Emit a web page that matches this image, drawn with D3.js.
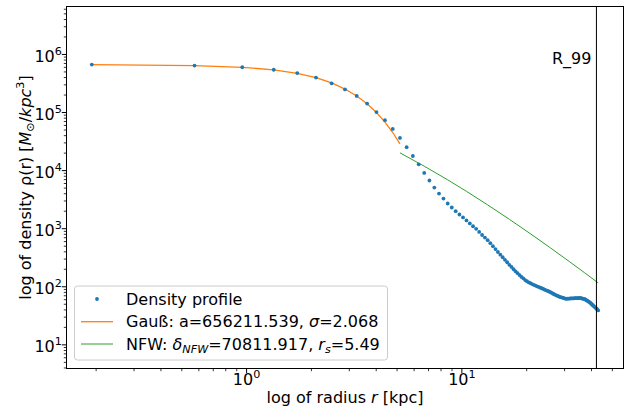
<!DOCTYPE html>
<html><head><meta charset="utf-8">
<script src="https://cdn.jsdelivr.net/npm/d3@7"></script>
<style>
html,body{margin:0;padding:0;background:#fff;}
svg{display:block;font-family:"DejaVu Sans",sans-serif;}
</style></head><body>
<svg id="chart" width="626" height="408"></svg>
<script>
// ---- data ----
const radius = [
0.192,0.576,0.960,1.344,1.728,2.112,2.496,2.880,3.264,3.648,
4.032,4.416,4.800,5.184,5.568,5.952,6.336,6.720,7.104,7.488,
7.872,8.256,8.640,9.024,9.408,9.792,10.176,10.560,10.944,11.328,
11.712,12.096,12.480,12.864,13.248,13.632,14.016,14.400,14.784,15.168,
15.552,15.936,16.320,16.704,17.088,17.472,17.856,18.240,18.624,19.008,
19.392,19.776,20.160,20.544,20.928,21.312,21.696,22.080,22.464,22.848,
23.232,23.616,24.000,24.384,24.768,25.152,25.536,25.920,26.304,26.688,
27.072,27.456,27.840,28.224,28.608,28.992,29.376,29.760,30.144,30.528,
30.912,31.296,31.680,32.064,32.448,32.832,33.216,33.600,33.984,34.368,
34.752,35.136,35.520,35.904,36.288,36.672,37.056,37.440,37.824,38.208,
38.592,38.976,39.360,39.744,40.128,40.512,40.896,41.280,41.664,42.048,
42.432,42.816,43.200];
const density = [
656000,631000,590000,535000,468000,392000,312000,245000,189000,140000,
100000,72300,51200,35800,24800,17500,12600,8950,6620,5010,
3950,3240,2660,2270,1960,1720,1530,1360,1210,1080,
977,863,764,689,621,552,490,437,389,350,
316,285,259,234,215,197,181,168,156,145,
137,128,122,117,113,109,106,103,100,97.3,
94.6,92.4,89.9,87.3,85.3,83.3,81.3,79.1,76.7,74.3,
72.3,70.6,68.9,67.3,65.7,64.9,63.9,62.9,61.9,60.9,
61.1,61.1,61.4,61.7,61.7,61.9,61.9,62.2,62.4,62.4,
62.6,62.6,62.9,62.4,61.7,61.1,60.4,60.0,58.6,57.0,
55.9,54.6,53.2,51.6,50.0,48.2,46.8,45.1,43.9,42.5,
41.1,39.9,38.4];
const gaussRadius = [0.192,0.576,0.960,1.344,1.728,2.112,2.496,2.880,3.264,3.648,4.032,4.416,4.800,5.184];
const gaussDensity = [653389,631210,589210,531260,462830,389530,316750,248830,188860,138460,98100,67130,44390,28350];
const nfwRadius = [5.184,6.72,8.64,10.56,13.248,16.704,20.928,25.92,31.68,37.44,43.2];
const nfwDensity = [19838,11696,6792,4307,2519,1424,802.2,458.2,267.7,169.8,114.4];
const r99 = 42.4;
const xMajorTicks = [1, 10];
const yMajorTicks = [10, 100, 1000, 10000, 100000, 1000000];

// ---- layout ----
const svg = d3.select("#chart");
const L = 66.5, R = 623.5, T = 6.5, B = 368.5;
const blue = "#1f77b4", orange = "#ff7f0e", green = "#2ca02c";

const lx0 = Math.log10(d3.min(radius)), lx1 = Math.log10(d3.max(radius));
const pad = 0.05 * (lx1 - lx0);
const x = d3.scaleLog().domain([Math.pow(10, lx0 - pad), Math.pow(10, lx1 + pad)]).range([L, R]);
const y = d3.scaleLog().domain([d3.min(density) / 10, d3.max(density) * 10]).range([B, T]);

function minorTicks(scale) {
  const [a, b] = scale.domain();
  const out = [];
  for (let e = Math.floor(Math.log10(a)); e <= Math.ceil(Math.log10(b)); e++) {
    for (let m = 2; m <= 9; m++) {
      const v = m * Math.pow(10, e);
      if (v >= a && v <= b) out.push(v);
    }
  }
  return out;
}

// minor ticks
svg.append("g").attr("transform", `translate(0,${B})`)
  .call(d3.axisBottom(x).tickValues(minorTicks(x)).tickSize(2.7).tickFormat(""))
  .call(g => { g.select(".domain").remove(); g.selectAll("line").attr("stroke", "#000").attr("stroke-width", 0.8); });
svg.append("g").attr("transform", `translate(${L},0)`)
  .call(d3.axisLeft(y).tickValues(minorTicks(y)).tickSize(2.7).tickFormat(""))
  .call(g => { g.select(".domain").remove(); g.selectAll("line").attr("stroke", "#000").attr("stroke-width", 0.8); });

// major ticks
function powLabel(sel, anchor, tx, ty) {
  sel.each(function (d) {
    const t = d3.select(this).append("text")
      .attr("x", tx).attr("y", ty).attr("text-anchor", anchor)
      .attr("fill", "#000").style("font-family", "DejaVu Sans").style("font-size", "16px");
    t.append("tspan").text("10");
    t.append("tspan").attr("dy", -7).style("font-size", "11.2px").text(Math.round(Math.log10(d)));
  });
}
svg.append("g").attr("transform", `translate(0,${B})`)
  .call(d3.axisBottom(x).tickValues(xMajorTicks).tickSize(4.7).tickFormat(""))
  .call(g => { g.select(".domain").remove(); g.selectAll("line").attr("stroke", "#000").attr("stroke-width", 1); g.selectAll("text").remove();
    powLabel(g.selectAll(".tick"), "middle", 0, 16.8); });
svg.append("g").attr("transform", `translate(${L},0)`)
  .call(d3.axisLeft(y).tickValues(yMajorTicks).tickSize(4.7).tickFormat(""))
  .call(g => { g.select(".domain").remove(); g.selectAll("line").attr("stroke", "#000").attr("stroke-width", 1); g.selectAll("text").remove();
    powLabel(g.selectAll(".tick"), "end", -4.6, 7.3); });

// data
const clip = svg.append("clipPath").attr("id", "clip").append("rect")
  .attr("x", L).attr("y", T).attr("width", R - L).attr("height", B - T);
const plot = svg.append("g").attr("clip-path", "url(#clip)");

plot.append("path")
  .attr("d", d3.line().x((d, i) => x(gaussRadius[i])).y(d => y(d))(gaussDensity))
  .attr("fill", "none").attr("stroke", orange).attr("stroke-width", 1.3);
plot.append("path")
  .attr("d", d3.line().x((d, i) => x(nfwRadius[i])).y(d => y(d))(nfwDensity))
  .attr("fill", "none").attr("stroke", green).attr("stroke-width", 1);
plot.selectAll("circle.pt").data(density).join("circle").attr("class", "pt")
  .attr("cx", (d, i) => x(radius[i])).attr("cy", d => y(d)).attr("r", 1.9).attr("fill", blue);

// R_99 line
svg.append("line").attr("x1", x(r99)).attr("x2", x(r99)).attr("y1", T).attr("y2", B)
  .attr("stroke", "#000").attr("stroke-width", 1);
svg.append("text").attr("x", x(r99) - 5).attr("y", 64.3).attr("text-anchor", "end")
  .style("font-size", "16px").text("R_99");

// frame
svg.append("rect").attr("x", L).attr("y", T).attr("width", R - L).attr("height", B - T)
  .attr("fill", "none").attr("stroke", "#000").attr("stroke-width", 1);

// axis labels
const xl = svg.append("text").attr("x", (L + R) / 2).attr("y", 402.5).attr("text-anchor", "middle").style("font-size", "16px");
xl.append("tspan").text("log of radius ");
xl.append("tspan").style("font-style", "italic").text("r");
xl.append("tspan").text(" [kpc]");

const yl = svg.append("text").attr("transform", `translate(31,${(T + B) / 2}) rotate(-90)`).attr("text-anchor", "middle").style("font-size", "16px");
yl.append("tspan").text("log of density ρ(r) [");
yl.append("tspan").style("font-style", "italic").text("M");
yl.append("tspan").attr("dy", 3).style("font-size", "11.2px").text("⊙");
yl.append("tspan").attr("dy", -3).text("/");
yl.append("tspan").style("font-style", "italic").text("kpc");
yl.append("tspan").attr("dy", -7).style("font-size", "11.2px").text("3");
yl.append("tspan").attr("dy", 7).text("]");

// legend
const lg = svg.append("g");
lg.append("rect").attr("x", 74.5).attr("y", 286).attr("width", 313).attr("height", 74).attr("rx", 3)
  .attr("fill", "#fff").attr("fill-opacity", 0.8).attr("stroke", "#cccccc").attr("stroke-width", 1);
const rows = [299, 321.7, 344];
lg.append("circle").attr("cx", 97).attr("cy", rows[0]).attr("r", 1.9).attr("fill", blue);
lg.append("line").attr("x1", 81).attr("x2", 113).attr("y1", rows[1]).attr("y2", rows[1]).attr("stroke", orange).attr("stroke-width", 1.3);
lg.append("line").attr("x1", 81).attr("x2", 113).attr("y1", rows[2]).attr("y2", rows[2]).attr("stroke", green).attr("stroke-width", 1);
const t1 = lg.append("text").attr("x", 126).attr("y", rows[0] + 5.6).style("font-size", "16px");
t1.text("Density profile");
const t2 = lg.append("text").attr("x", 126).attr("y", rows[1] + 5.6).style("font-size", "16px");
t2.append("tspan").text("Gauß: a=656211.539, ");
t2.append("tspan").style("font-style", "italic").text("σ");
t2.append("tspan").text("=2.068");
const t3 = lg.append("text").attr("x", 126).attr("y", rows[2] + 5.6).style("font-size", "16px");
t3.append("tspan").text("NFW: ");
t3.append("tspan").style("font-style", "italic").text("δ");
t3.append("tspan").attr("dy", 3.5).style("font-style", "italic").style("font-size", "11.2px").text("NFW");
t3.append("tspan").attr("dy", -3.5).text("=70811.917, ");
t3.append("tspan").style("font-style", "italic").text("r");
t3.append("tspan").attr("dy", 3.5).style("font-style", "italic").style("font-size", "11.2px").text("s");
t3.append("tspan").attr("dy", -3.5).text("=5.49");
</script>
</body></html>
